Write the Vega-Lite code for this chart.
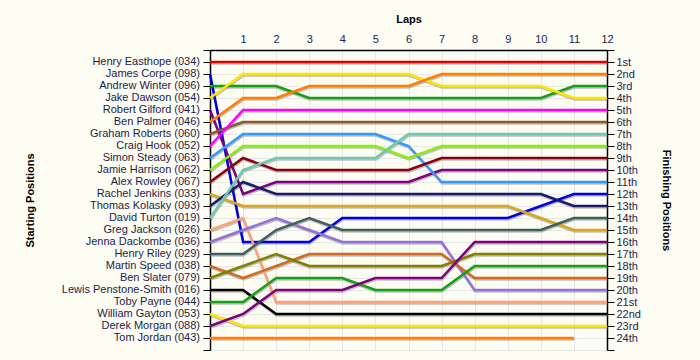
{
 "$schema": "https://vega.github.io/schema/vega-lite/v6.json",
 "width": 397,
 "height": 300,
 "autosize": {"type": "none"},
 "padding": {"left": 210, "top": 50, "right": 93, "bottom": 10},
 "background": "#FEFDF3",
 "config": {
  "view": {"stroke": null, "fill": "#FEFDF3"},
  "font": "Liberation Sans",
  "axis": {"labelFont": "Liberation Sans", "labelFontSize": 11, "labelColor": "#1C1C4C", "labelOverlap": false, "labelFlush": false, "titleFont": "Liberation Sans", "titleFontSize": 11, "titleFontWeight": "bold", "titleColor": "#000000", "domainColor": "#000000", "domainWidth": 1.5, "tickColor": "#000000", "gridColor": "#E6E6E6", "gridWidth": 1}
 },
 "datasets": {
  "drivers": [
   {"car": "034", "name": "Henry Easthope (034)", "start": 1},
   {"car": "098", "name": "James Corpe (098)", "start": 2},
   {"car": "096", "name": "Andrew Winter (096)", "start": 3},
   {"car": "054", "name": "Jake Dawson (054)", "start": 4},
   {"car": "041", "name": "Robert Gilford (041)", "start": 5},
   {"car": "046", "name": "Ben Palmer (046)", "start": 6},
   {"car": "060", "name": "Graham Roberts (060)", "start": 7},
   {"car": "052", "name": "Craig Hook (052)", "start": 8},
   {"car": "063", "name": "Simon Steady (063)", "start": 9},
   {"car": "062", "name": "Jamie Harrison (062)", "start": 10},
   {"car": "067", "name": "Alex Rowley (067)", "start": 11},
   {"car": "033", "name": "Rachel Jenkins (033)", "start": 12},
   {"car": "093", "name": "Thomas Kolasky (093)", "start": 13},
   {"car": "019", "name": "David Turton (019)", "start": 14},
   {"car": "026", "name": "Greg Jackson (026)", "start": 15},
   {"car": "036", "name": "Jenna Dackombe (036)", "start": 16},
   {"car": "029", "name": "Henry Riley (029)", "start": 17},
   {"car": "038", "name": "Martin Speed (038)", "start": 18},
   {"car": "079", "name": "Ben Slater (079)", "start": 19},
   {"car": "016", "name": "Lewis Penstone-Smith (016)", "start": 20},
   {"car": "044", "name": "Toby Payne (044)", "start": 21},
   {"car": "053", "name": "William Gayton (053)", "start": 22},
   {"car": "088", "name": "Derek Morgan (088)", "start": 23},
   {"car": "043", "name": "Tom Jordan (043)", "start": 24}
  ],
  "laps": [
   {"car":"034","lap":0,"pos":1},{"car":"034","lap":1,"pos":1},{"car":"034","lap":2,"pos":1},{"car":"034","lap":3,"pos":1},{"car":"034","lap":4,"pos":1},{"car":"034","lap":5,"pos":1},{"car":"034","lap":6,"pos":1},{"car":"034","lap":7,"pos":1},{"car":"034","lap":8,"pos":1},{"car":"034","lap":9,"pos":1},{"car":"034","lap":10,"pos":1},{"car":"034","lap":11,"pos":1},{"car":"034","lap":12,"pos":1},
   {"car":"098","lap":0,"pos":2},{"car":"098","lap":1,"pos":16},{"car":"098","lap":2,"pos":16},{"car":"098","lap":3,"pos":16},{"car":"098","lap":4,"pos":14},{"car":"098","lap":5,"pos":14},{"car":"098","lap":6,"pos":14},{"car":"098","lap":7,"pos":14},{"car":"098","lap":8,"pos":14},{"car":"098","lap":9,"pos":14},{"car":"098","lap":10,"pos":13},{"car":"098","lap":11,"pos":12},{"car":"098","lap":12,"pos":12},
   {"car":"096","lap":0,"pos":3},{"car":"096","lap":1,"pos":3},{"car":"096","lap":2,"pos":3},{"car":"096","lap":3,"pos":4},{"car":"096","lap":4,"pos":4},{"car":"096","lap":5,"pos":4},{"car":"096","lap":6,"pos":4},{"car":"096","lap":7,"pos":4},{"car":"096","lap":8,"pos":4},{"car":"096","lap":9,"pos":4},{"car":"096","lap":10,"pos":4},{"car":"096","lap":11,"pos":3},{"car":"096","lap":12,"pos":3},
   {"car":"054","lap":0,"pos":4},{"car":"054","lap":1,"pos":2},{"car":"054","lap":2,"pos":2},{"car":"054","lap":3,"pos":2},{"car":"054","lap":4,"pos":2},{"car":"054","lap":5,"pos":2},{"car":"054","lap":6,"pos":2},{"car":"054","lap":7,"pos":3},{"car":"054","lap":8,"pos":3},{"car":"054","lap":9,"pos":3},{"car":"054","lap":10,"pos":3},{"car":"054","lap":11,"pos":4},{"car":"054","lap":12,"pos":4},
   {"car":"041","lap":0,"pos":5},{"car":"041","lap":1,"pos":12},{"car":"041","lap":2,"pos":11},{"car":"041","lap":3,"pos":11},{"car":"041","lap":4,"pos":11},{"car":"041","lap":5,"pos":11},{"car":"041","lap":6,"pos":11},{"car":"041","lap":7,"pos":10},{"car":"041","lap":8,"pos":10},{"car":"041","lap":9,"pos":10},{"car":"041","lap":10,"pos":10},{"car":"041","lap":11,"pos":10},{"car":"041","lap":12,"pos":10},
   {"car":"046","lap":0,"pos":6},{"car":"046","lap":1,"pos":4},{"car":"046","lap":2,"pos":4},{"car":"046","lap":3,"pos":3},{"car":"046","lap":4,"pos":3},{"car":"046","lap":5,"pos":3},{"car":"046","lap":6,"pos":3},{"car":"046","lap":7,"pos":2},{"car":"046","lap":8,"pos":2},{"car":"046","lap":9,"pos":2},{"car":"046","lap":10,"pos":2},{"car":"046","lap":11,"pos":2},{"car":"046","lap":12,"pos":2},
   {"car":"060","lap":0,"pos":7},{"car":"060","lap":1,"pos":6},{"car":"060","lap":2,"pos":6},{"car":"060","lap":3,"pos":6},{"car":"060","lap":4,"pos":6},{"car":"060","lap":5,"pos":6},{"car":"060","lap":6,"pos":6},{"car":"060","lap":7,"pos":6},{"car":"060","lap":8,"pos":6},{"car":"060","lap":9,"pos":6},{"car":"060","lap":10,"pos":6},{"car":"060","lap":11,"pos":6},{"car":"060","lap":12,"pos":6},
   {"car":"052","lap":0,"pos":8},{"car":"052","lap":1,"pos":5},{"car":"052","lap":2,"pos":5},{"car":"052","lap":3,"pos":5},{"car":"052","lap":4,"pos":5},{"car":"052","lap":5,"pos":5},{"car":"052","lap":6,"pos":5},{"car":"052","lap":7,"pos":5},{"car":"052","lap":8,"pos":5},{"car":"052","lap":9,"pos":5},{"car":"052","lap":10,"pos":5},{"car":"052","lap":11,"pos":5},{"car":"052","lap":12,"pos":5},
   {"car":"063","lap":0,"pos":9},{"car":"063","lap":1,"pos":7},{"car":"063","lap":2,"pos":7},{"car":"063","lap":3,"pos":7},{"car":"063","lap":4,"pos":7},{"car":"063","lap":5,"pos":7},{"car":"063","lap":6,"pos":8},{"car":"063","lap":7,"pos":11},{"car":"063","lap":8,"pos":11},{"car":"063","lap":9,"pos":11},{"car":"063","lap":10,"pos":11},{"car":"063","lap":11,"pos":11},{"car":"063","lap":12,"pos":11},
   {"car":"062","lap":0,"pos":10},{"car":"062","lap":1,"pos":8},{"car":"062","lap":2,"pos":8},{"car":"062","lap":3,"pos":8},{"car":"062","lap":4,"pos":8},{"car":"062","lap":5,"pos":8},{"car":"062","lap":6,"pos":9},{"car":"062","lap":7,"pos":8},{"car":"062","lap":8,"pos":8},{"car":"062","lap":9,"pos":8},{"car":"062","lap":10,"pos":8},{"car":"062","lap":11,"pos":8},{"car":"062","lap":12,"pos":8},
   {"car":"067","lap":0,"pos":11},{"car":"067","lap":1,"pos":9},{"car":"067","lap":2,"pos":10},{"car":"067","lap":3,"pos":10},{"car":"067","lap":4,"pos":10},{"car":"067","lap":5,"pos":10},{"car":"067","lap":6,"pos":10},{"car":"067","lap":7,"pos":9},{"car":"067","lap":8,"pos":9},{"car":"067","lap":9,"pos":9},{"car":"067","lap":10,"pos":9},{"car":"067","lap":11,"pos":9},{"car":"067","lap":12,"pos":9},
   {"car":"033","lap":0,"pos":12},{"car":"033","lap":1,"pos":13},{"car":"033","lap":2,"pos":13},{"car":"033","lap":3,"pos":13},{"car":"033","lap":4,"pos":13},{"car":"033","lap":5,"pos":13},{"car":"033","lap":6,"pos":13},{"car":"033","lap":7,"pos":13},{"car":"033","lap":8,"pos":13},{"car":"033","lap":9,"pos":13},{"car":"033","lap":10,"pos":14},{"car":"033","lap":11,"pos":15},{"car":"033","lap":12,"pos":15},
   {"car":"093","lap":0,"pos":13},{"car":"093","lap":1,"pos":11},{"car":"093","lap":2,"pos":12},{"car":"093","lap":3,"pos":12},{"car":"093","lap":4,"pos":12},{"car":"093","lap":5,"pos":12},{"car":"093","lap":6,"pos":12},{"car":"093","lap":7,"pos":12},{"car":"093","lap":8,"pos":12},{"car":"093","lap":9,"pos":12},{"car":"093","lap":10,"pos":12},{"car":"093","lap":11,"pos":13},{"car":"093","lap":12,"pos":13},
   {"car":"019","lap":0,"pos":14},{"car":"019","lap":1,"pos":10},{"car":"019","lap":2,"pos":9},{"car":"019","lap":3,"pos":9},{"car":"019","lap":4,"pos":9},{"car":"019","lap":5,"pos":9},{"car":"019","lap":6,"pos":7},{"car":"019","lap":7,"pos":7},{"car":"019","lap":8,"pos":7},{"car":"019","lap":9,"pos":7},{"car":"019","lap":10,"pos":7},{"car":"019","lap":11,"pos":7},{"car":"019","lap":12,"pos":7},
   {"car":"026","lap":0,"pos":15},{"car":"026","lap":1,"pos":14},{"car":"026","lap":2,"pos":21},{"car":"026","lap":3,"pos":21},{"car":"026","lap":4,"pos":21},{"car":"026","lap":5,"pos":21},{"car":"026","lap":6,"pos":21},{"car":"026","lap":7,"pos":21},{"car":"026","lap":8,"pos":21},{"car":"026","lap":9,"pos":21},{"car":"026","lap":10,"pos":21},{"car":"026","lap":11,"pos":21},{"car":"026","lap":12,"pos":21},
   {"car":"036","lap":0,"pos":16},{"car":"036","lap":1,"pos":15},{"car":"036","lap":2,"pos":14},{"car":"036","lap":3,"pos":15},{"car":"036","lap":4,"pos":16},{"car":"036","lap":5,"pos":16},{"car":"036","lap":6,"pos":16},{"car":"036","lap":7,"pos":16},{"car":"036","lap":8,"pos":20},{"car":"036","lap":9,"pos":20},{"car":"036","lap":10,"pos":20},{"car":"036","lap":11,"pos":20},{"car":"036","lap":12,"pos":20},
   {"car":"029","lap":0,"pos":17},{"car":"029","lap":1,"pos":17},{"car":"029","lap":2,"pos":15},{"car":"029","lap":3,"pos":14},{"car":"029","lap":4,"pos":15},{"car":"029","lap":5,"pos":15},{"car":"029","lap":6,"pos":15},{"car":"029","lap":7,"pos":15},{"car":"029","lap":8,"pos":15},{"car":"029","lap":9,"pos":15},{"car":"029","lap":10,"pos":15},{"car":"029","lap":11,"pos":14},{"car":"029","lap":12,"pos":14},
   {"car":"038","lap":0,"pos":18},{"car":"038","lap":1,"pos":19},{"car":"038","lap":2,"pos":18},{"car":"038","lap":3,"pos":17},{"car":"038","lap":4,"pos":17},{"car":"038","lap":5,"pos":17},{"car":"038","lap":6,"pos":17},{"car":"038","lap":7,"pos":17},{"car":"038","lap":8,"pos":19},{"car":"038","lap":9,"pos":19},{"car":"038","lap":10,"pos":19},{"car":"038","lap":11,"pos":19},{"car":"038","lap":12,"pos":19},
   {"car":"079","lap":0,"pos":19},{"car":"079","lap":1,"pos":18},{"car":"079","lap":2,"pos":17},{"car":"079","lap":3,"pos":18},{"car":"079","lap":4,"pos":18},{"car":"079","lap":5,"pos":18},{"car":"079","lap":6,"pos":18},{"car":"079","lap":7,"pos":18},{"car":"079","lap":8,"pos":17},{"car":"079","lap":9,"pos":17},{"car":"079","lap":10,"pos":17},{"car":"079","lap":11,"pos":17},{"car":"079","lap":12,"pos":17},
   {"car":"016","lap":0,"pos":20},{"car":"016","lap":1,"pos":20},{"car":"016","lap":2,"pos":22},{"car":"016","lap":3,"pos":22},{"car":"016","lap":4,"pos":22},{"car":"016","lap":5,"pos":22},{"car":"016","lap":6,"pos":22},{"car":"016","lap":7,"pos":22},{"car":"016","lap":8,"pos":22},{"car":"016","lap":9,"pos":22},{"car":"016","lap":10,"pos":22},{"car":"016","lap":11,"pos":22},{"car":"016","lap":12,"pos":22},
   {"car":"044","lap":0,"pos":21},{"car":"044","lap":1,"pos":21},{"car":"044","lap":2,"pos":19},{"car":"044","lap":3,"pos":19},{"car":"044","lap":4,"pos":19},{"car":"044","lap":5,"pos":20},{"car":"044","lap":6,"pos":20},{"car":"044","lap":7,"pos":20},{"car":"044","lap":8,"pos":18},{"car":"044","lap":9,"pos":18},{"car":"044","lap":10,"pos":18},{"car":"044","lap":11,"pos":18},{"car":"044","lap":12,"pos":18},
   {"car":"053","lap":0,"pos":22},{"car":"053","lap":1,"pos":23},{"car":"053","lap":2,"pos":23},{"car":"053","lap":3,"pos":23},{"car":"053","lap":4,"pos":23},{"car":"053","lap":5,"pos":23},{"car":"053","lap":6,"pos":23},{"car":"053","lap":7,"pos":23},{"car":"053","lap":8,"pos":23},{"car":"053","lap":9,"pos":23},{"car":"053","lap":10,"pos":23},{"car":"053","lap":11,"pos":23},{"car":"053","lap":12,"pos":23},
   {"car":"088","lap":0,"pos":23},{"car":"088","lap":1,"pos":22},{"car":"088","lap":2,"pos":20},{"car":"088","lap":3,"pos":20},{"car":"088","lap":4,"pos":20},{"car":"088","lap":5,"pos":19},{"car":"088","lap":6,"pos":19},{"car":"088","lap":7,"pos":19},{"car":"088","lap":8,"pos":16},{"car":"088","lap":9,"pos":16},{"car":"088","lap":10,"pos":16},{"car":"088","lap":11,"pos":16},{"car":"088","lap":12,"pos":16},
   {"car":"043","lap":0,"pos":24},{"car":"043","lap":1,"pos":24},{"car":"043","lap":2,"pos":24},{"car":"043","lap":3,"pos":24},{"car":"043","lap":4,"pos":24},{"car":"043","lap":5,"pos":24},{"car":"043","lap":6,"pos":24},{"car":"043","lap":7,"pos":24},{"car":"043","lap":8,"pos":24},{"car":"043","lap":9,"pos":24},{"car":"043","lap":10,"pos":24},{"car":"043","lap":11,"pos":24}
  ]
 },
 "layer": [
  {
   "data": {"name": "laps"},
   "mark": {"type": "line", "stroke": "#8C8C8C", "strokeWidth": 2.5, "xOffset": 0.5, "yOffset": 1.5, "opacity": 0.55},
   "encoding": {
    "x": {"field": "lap", "type": "quantitative", "scale": {"domain": [0, 12], "nice": false, "zero": false},
     "axis": {"orient": "top", "values": [0,1,2,3,4,5,6,7,8,9,10,11,12], "labelExpr": "datum.value == 0 ? '' : '' + datum.value", "labelOverlap": false, "labelFlush": false, "labelBound": false, "grid": true, "ticks": false, "labelPadding": 6, "title": "Laps", "titleX": 198.5, "titleY": -28, "titleAlign": "center", "titleBaseline": "alphabetic"}},
    "y": {"field": "pos", "type": "quantitative", "scale": {"domain": [0, 25], "reverse": true, "nice": false, "zero": false},
     "axis": {"orient": "left", "values": [0,1,2,3,4,5,6,7,8,9,10,11,12,13,14,15,16,17,18,19,20,21,22,23,24,25], "labels": false, "tickSize": 7, "grid": true, "title": "Starting Positions", "titleX": -180, "titleY": 150, "titleAngle": -90, "titleAlign": "center", "titleBaseline": "middle"}},
    "detail": {"field": "car"},
    "order": {"field": "lap"}
   }
  },
  {
   "data": {"name": "laps"},
   "mark": {"type": "line", "strokeWidth": 2.5},
   "encoding": {
    "x": {"field": "lap", "type": "quantitative",
     "axis": {"orient": "top", "values": [0,1,2,3,4,5,6,7,8,9,10,11,12], "labelExpr": "datum.value == 0 ? '' : '' + datum.value", "labelOverlap": false, "labelFlush": false, "labelBound": false, "grid": true, "ticks": false, "labelPadding": 6, "title": "Laps", "titleX": 198.5, "titleY": -28, "titleAlign": "center", "titleBaseline": "alphabetic"}},
    "y": {"field": "pos", "type": "quantitative",
     "axis": {"orient": "right", "values": [0,1,2,3,4,5,6,7,8,9,10,11,12,13,14,15,16,17,18,19,20,21,22,23,24,25], "labelExpr": "datum.value == 0 || datum.value == 25 ? '' : datum.value + ((datum.value % 10 == 1 && datum.value != 11) ? 'st' : (datum.value % 10 == 2 && datum.value != 12) ? 'nd' : (datum.value % 10 == 3 && datum.value != 13) ? 'rd' : 'th')", "labelOverlap": false, "tickSize": 7, "labelPadding": 2, "grid": false, "title": "Finishing Positions", "titleX": 58, "titleY": 150, "titleAngle": 90, "titleAlign": "center", "titleBaseline": "middle"}},
    "color": {"field": "car", "type": "nominal", "legend": null,
     "scale": {"domain": ["034","098","096","054","041","046","060","052","063","062","067","033","093","019","026","036","029","038","079","016","044","053","088","043"],
      "range": ["#E00000","#0000DD","#16A016","#FFE600","#800080","#FF8000","#8B5A2B","#FF00FF","#3399FF","#88EE11","#8B0010","#DAA520","#191970","#70C8B0","#FFA07A","#9370DB","#3F5F5F","#D2691E","#808000","#000000","#16A016","#FFE600","#800080","#FF8000"]}},
    "order": {"field": "lap"}
   }
  },
  {
   "data": {"name": "drivers"},
   "mark": {"type": "text", "align": "right", "baseline": "middle", "dx": -10, "fontSize": 11, "font": "Liberation Sans", "color": "#1C1C4C"},
   "encoding": {
    "x": {"datum": 0, "type": "quantitative",
     "axis": {"orient": "top", "values": [0,1,2,3,4,5,6,7,8,9,10,11,12], "labelExpr": "datum.value == 0 ? '' : '' + datum.value", "labelOverlap": false, "labelFlush": false, "labelBound": false, "grid": true, "ticks": false, "labelPadding": 6, "title": "Laps", "titleX": 198.5, "titleY": -28, "titleAlign": "center", "titleBaseline": "alphabetic"}},
    "y": {"field": "start", "type": "quantitative", "axis": null},
    "text": {"field": "name"}
   }
  }
 ],
 "resolve": {"axis": {"y": "independent"}}
}
